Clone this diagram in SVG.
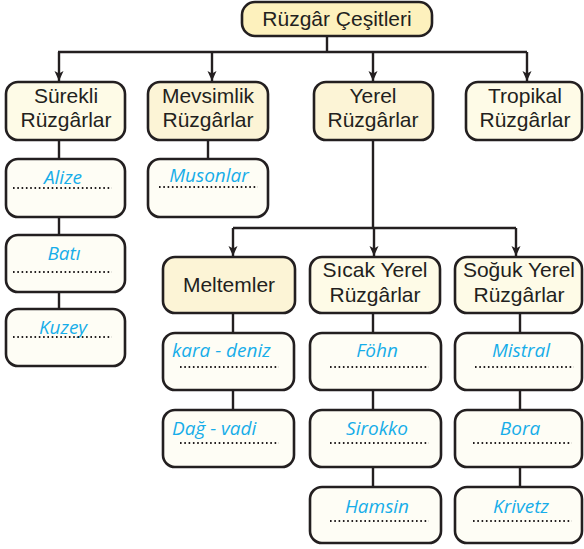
<svg xmlns="http://www.w3.org/2000/svg" width="584" height="549" viewBox="0 0 584 549">
<defs>
<marker id="ah" viewBox="0 0 10 10" refX="10" refY="5" markerWidth="10" markerHeight="10" markerUnits="userSpaceOnUse" orient="auto">
<path d="M0,0.5 L10,5 L0,9.5 L2.5,5 Z" fill="#231f20"/>
</marker>
</defs>
<style>
.box{stroke:#231f20;stroke-width:2.6}
.top{fill:#fdf1bd}
.h1{fill:#fcf4d6}
.h2{fill:#fefbe7}
.leaf{fill:#fefdf5}
.t{font-family:"Liberation Sans",Arial,sans-serif;font-size:21px;fill:#231f20;text-anchor:middle}
.b{font-family:"Open Sans","Noto Sans",sans-serif;font-style:italic;font-size:19px;fill:#17ade9;text-anchor:middle}
.bl{text-anchor:start}
.dot{stroke:#231f20;stroke-width:2;stroke-dasharray:1.6 2.7;fill:none}
.ln{stroke:#231f20;stroke-width:2.4;fill:none}
</style>
<g id="connectors">
<path class="ln" d="M327,36 V52 M58,52 H527"/>
<path class="ln" d="M59,52 V81" marker-end="url(#ah)"/>
<path class="ln" d="M212,52 V81" marker-end="url(#ah)"/>
<path class="ln" d="M373,52 V81" marker-end="url(#ah)"/>
<path class="ln" d="M527,52 V81" marker-end="url(#ah)"/>
<path class="ln" d="M59,140 V159 M59,217 V235 M59,292 V309"/>
<path class="ln" d="M208,140 V159"/>
<path class="ln" d="M373,140 V228 M233,228 H516"/>
<path class="ln" d="M233,228 V256" marker-end="url(#ah)"/>
<path class="ln" d="M374,228 V256" marker-end="url(#ah)"/>
<path class="ln" d="M516,228 V256" marker-end="url(#ah)"/>
<path class="ln" d="M233,313 V333 M233,390 V410"/>
<path class="ln" d="M373,313 V333 M373,390 V410 M373,467 V487"/>
<path class="ln" d="M520,313 V333 M520,390 V410 M520,467 V487"/>
</g>
<g id="n-root"><rect class="box top" x="242" y="2" width="190" height="34" rx="13"/><text class="t" x="337" y="26">Rüzgâr Çeşitleri</text></g>
<g id="n-surekli"><rect class="box h2" x="6" y="82" width="119" height="58" rx="12"/><text class="t" x="66" y="103">Sürekli</text><text class="t" x="66" y="127">Rüzgârlar</text></g>
<g id="n-mevsimlik"><rect class="box h1" x="148" y="82" width="120" height="58" rx="12"/><text class="t" x="208" y="103">Mevsimlik</text><text class="t" x="208" y="127">Rüzgârlar</text></g>
<g id="n-yerel"><rect class="box h1" x="314" y="82" width="119" height="58" rx="12"/><text class="t" x="373" y="103">Yerel</text><text class="t" x="373" y="127">Rüzgârlar</text></g>
<g id="n-tropikal"><rect class="box h2" x="466" y="82" width="116" height="58" rx="12"/><text class="t" x="525" y="103">Tropikal</text><text class="t" x="525" y="127">Rüzgârlar</text></g>
<g id="n-alize"><rect class="box leaf" x="6" y="159" width="119" height="58" rx="12"/><text class="b" x="63" y="184">Alize</text><path class="dot" d="M13,188 H112"/></g>
<g id="n-bati"><rect class="box leaf" x="6" y="235" width="119" height="57" rx="12"/><text class="b" x="64" y="260">Batı</text><path class="dot" d="M13,272 H112"/></g>
<g id="n-kuzey"><rect class="box leaf" x="6" y="309" width="119" height="57" rx="12"/><text class="b" x="63" y="334">Kuzey</text><path class="dot" d="M13,337 H112"/></g>
<g id="n-musonlar"><rect class="box leaf" x="148" y="159" width="120" height="58" rx="12"/><text class="b" x="209" y="182">Musonlar</text><path class="dot" d="M159,187 H258"/></g>
<g id="n-meltemler"><rect class="box h1" x="163" y="257" width="132" height="56" rx="12"/><text class="t" x="229" y="292">Meltemler</text></g>
<g id="n-sicak"><rect class="box h2" x="310" y="257" width="130" height="56" rx="12"/><text class="t" x="375" y="277">Sıcak Yerel</text><text class="t" x="375" y="302">Rüzgârlar</text></g>
<g id="n-soguk"><rect class="box h2" x="455" y="257" width="127" height="56" rx="12"/><text class="t" x="519" y="277">Soğuk Yerel</text><text class="t" x="519" y="302">Rüzgârlar</text></g>
<g id="n-karadeniz"><rect class="box leaf" x="163" y="333" width="131" height="57" rx="12"/><text class="b bl" x="172" y="357">kara - deniz</text><path class="dot" d="M180,367 H279"/></g>
<g id="n-dagvadi"><rect class="box leaf" x="163" y="410" width="131" height="57" rx="12"/><text class="b bl" x="172" y="435">Dağ - vadi</text><path class="dot" d="M180,443 H279"/></g>
<g id="n-fohn"><rect class="box leaf" x="310" y="333" width="131" height="57" rx="12"/><text class="b" x="377" y="357">Föhn</text><path class="dot" d="M330,367 H429"/></g>
<g id="n-sirokko"><rect class="box leaf" x="310" y="410" width="131" height="57" rx="12"/><text class="b" x="377" y="435">Sirokko</text><path class="dot" d="M330,443 H429"/></g>
<g id="n-hamsin"><rect class="box leaf" x="310" y="487" width="131" height="56" rx="12"/><text class="b" x="377" y="513">Hamsin</text><path class="dot" d="M330,521 H429"/></g>
<g id="n-mistral"><rect class="box leaf" x="455" y="333" width="127" height="57" rx="12"/><text class="b" x="521" y="357">Mistral</text><path class="dot" d="M475,367 H574"/></g>
<g id="n-bora"><rect class="box leaf" x="455" y="410" width="127" height="57" rx="12"/><text class="b" x="520" y="435">Bora</text><path class="dot" d="M473,443 H572"/></g>
<g id="n-krivetz"><rect class="box leaf" x="455" y="487" width="127" height="56" rx="12"/><text class="b" x="521" y="513">Krivetz</text><path class="dot" d="M473,521 H572"/></g>
</svg>
